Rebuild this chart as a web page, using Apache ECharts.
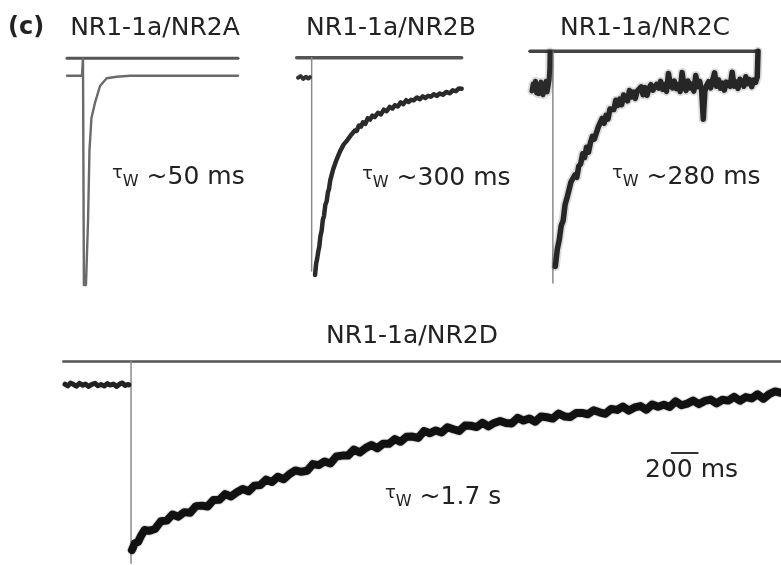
<!DOCTYPE html>
<html>
<head>
<meta charset="utf-8">
<script src="https://cdn.jsdelivr.net/npm/echarts@6/dist/echarts.min.js"></script>
<style>
  html, body { margin: 0; padding: 0; background: #fff; }
  #chart { width: 781px; height: 565px; }
</style>
</head>
<body>
<div id="chart"></div>
<script>
// time in ms from trace start, current in % of peak (0 = baseline, -100 = peak)
var titles = ['NR1-1a/NR2A', 'NR1-1a/NR2B', 'NR1-1a/NR2C', 'NR1-1a/NR2D'];
var tauLabels = ['~50 ms', '~300 ms', '~280 ms', '~1.7 s'];
var scaleLabel = '200 ms';

// agonist application bars
var barA = [[0, 8.3], [1315, 8.3]];
var barB = [[0, 10.1], [1269, 10.1]];
var barC = [[0, 18.8], [1755, 18.8]];
var barD = [[0, 14], [5521, 14]];

// NR2A
var traceA = [[0, 0], [115, 0], [123, 8.3], [130, -100], [146, -100], [162, -69], [173, -35.5], [188, -20.2],
  [215, -13], [254, -4.9], [305, -1.2], [382, -0.5], [485, 0], [1315, 0]];

// NR2B
var stubB = [[10, 0], [30, 0.8], [50, -0.6], [70, 0.5], [90, -0.4], [102, 0.3]];
var onsetB = [[115, 10.1], [115, -98]];
var decayB = [[141, -100], [150, -94], [158, -91.5], [166, -88], [174, -85.5], [182, -80.5], [192, -77.5],
  [201, -72], [210, -70], [220, -64.5], [231, -62.5], [240, -58], [248, -56.5], [258, -52], [269, -51],
  [280, -46.5], [295, -45.5], [307, -41.5], [320, -40.8], [334, -37.2], [348, -37], [362, -33.8],
  [375, -34.2], [385, -32], [400, -31.5], [418, -29], [432, -29.8], [446, -26.8], [462, -27], [478, -24.2],
  [494, -24.8], [510, -22.6], [528, -23.4], [546, -20.6], [564, -21.2], [582, -19.2], [600, -19.9],
  [625, -17.8], [648, -18.6], [670, -16.2], [692, -17], [715, -14.8], [736, -15.6], [756, -13.9],
  [778, -14.6], [800, -12.5], [820, -13.4], [842, -11.4], [860, -12.3], [879, -11.2], [900, -11.5],
  [925, -10], [948, -10.9], [970, -9.4], [990, -10.3], [1010, -9.2], [1032, -9.6], [1055, -8.4],
  [1077, -9.2], [1100, -8], [1125, -8.6], [1150, -7.2], [1179, -7.9], [1200, -6.4], [1225, -6.8],
  [1248, -5.4], [1269, -5.6]];

// NR2C
var stubC = [[15, -1.5], [24, 2], [33, -0.5], [42, 3.5], [50, -2.5], [58, 0.5], [66, -3], [75, 1.5], [84, 3],
  [92, -1], [100, -3.5], [108, 2], [116, 0], [124, 3.5], [132, -2], [140, 1], [147, 4], [152, 10], [154, 18.5]];
var onsetC = [[176, 18.8], [176, -100]];
var decayC = [[195, -91.5], [210, -82.7], [225, -77.9], [240, -70.6], [255, -68], [270, -59.7], [285, -56.3],
  [300, -55.8], [315, -48.2], [330, -49.2], [345, -44.6], [360, -45.8], [375, -40.1], [390, -38.9],
  [405, -33.7], [420, -35.7], [435, -30.4], [450, -32.9], [465, -28.1], [480, -24.8], [495, -26.2],
  [510, -25.6], [525, -20.1], [540, -20.5], [555, -15.6], [570, -18.1], [585, -14], [600, -15.9],
  [615, -10.8], [630, -10.6], [645, -11], [660, -6.3], [675, -8.9], [690, -5.7], [705, -8.6], [720, -3.6],
  [735, -4.7], [750, -6.6], [765, -1.3], [780, -4.6], [795, -2.1], [810, -5.3], [825, -1.6], [840, -2.5],
  [855, 0.6], [870, -3.5], [885, 0.2], [900, -3.7], [915, -0.2], [930, 1.7], [945, -1.1], [960, -2],
  [975, 1.9], [990, 0], [1005, 3.4], [1020, -0.7], [1035, 1.8], [1050, -1.7], [1065, 7.4], [1080, 1.7],
  [1095, 0.1], [1110, 3.5], [1125, -0.3], [1140, 1.7], [1155, -1.8], [1170, 7.9], [1185, 1.1],
  [1200, -1.3], [1215, 3.6], [1230, 0], [1245, 2], [1260, -1.6], [1275, 6.4], [1290, 0.6], [1305, 3.4],
  [1320, -0.9], [1333, -16], [1345, -1.6], [1360, 1.5], [1375, 3.2], [1390, 0.1], [1405, -0.9],
  [1420, 7.8], [1435, 0.9], [1450, 4.2], [1465, -0.1], [1480, 2.5], [1495, -1.1], [1510, 3], [1525, 2.2],
  [1540, 0.9], [1555, 8.1], [1570, 0.9], [1585, 3.2], [1600, -0.2], [1615, 4.5], [1630, 3.1], [1645, 0.9],
  [1660, 5.8], [1675, 2.2], [1690, 4.3], [1705, 0.7], [1720, 4.1], [1735, 2.9], [1748, 5.7], [1754, 18.8]];

// NR2D
var stubD = [[13, 0.4], [35, -0.6], [55, 1.1], [80, 0.2], [100, -0.8], [125, 0.9], [150, -0.2], [170, 0.6],
  [195, -0.9], [220, 0.3], [245, 1], [265, -0.5], [290, 0.2], [315, -0.7], [340, 0.8], [360, -0.1],
  [385, 0.5], [410, -0.9], [435, 0.6], [455, 1.2], [475, -0.4], [495, 0.3], [505, 0]];
var onsetD = [[521, 14], [521, -107]];
var decayD = [[528, -99], [550, -95.1], [575, -94.2], [600, -90.2], [625, -87], [660, -87.5], [705, -86.4],
  [750, -81.8], [795, -81.4], [840, -77.7], [885, -79], [930, -76.3], [975, -76.7], [1020, -72.7],
  [1065, -72.4], [1110, -72.9], [1155, -69], [1200, -68.9], [1245, -65.5], [1290, -66.9], [1335, -64.4],
  [1380, -62.4], [1425, -63.8], [1470, -60.4], [1515, -60.1], [1560, -56.8], [1605, -58.2], [1650, -55.1],
  [1695, -56.6], [1740, -53.5], [1785, -51.3], [1830, -52.1], [1875, -51.5], [1920, -47.5], [1965, -48.1],
  [2010, -45.9], [2055, -47.1], [2100, -42.9], [2145, -42.4], [2190, -42.4], [2235, -38.8], [2280, -40.5],
  [2325, -37.9], [2370, -36], [2415, -38], [2460, -35.3], [2505, -35.3], [2550, -32.5], [2595, -34.1],
  [2640, -31.1], [2685, -31], [2730, -31.8], [2775, -27.7], [2820, -29], [2865, -27.3], [2910, -28.5],
  [2955, -25.4], [3000, -26.6], [3045, -27.6], [3090, -24.4], [3135, -24.5], [3180, -25.3], [3225, -22.7],
  [3270, -24.9], [3315, -22.8], [3360, -21.6], [3405, -22.8], [3450, -23.1], [3495, -19.7], [3540, -21.4],
  [3585, -20.1], [3630, -22.1], [3675, -18.9], [3720, -19.4], [3765, -20.2], [3810, -17.2], [3855, -18.9],
  [3900, -19.3], [3945, -16.8], [3990, -16.8], [4035, -17.6], [4080, -15.2], [4125, -16.4], [4170, -17.3],
  [4215, -14.4], [4260, -15], [4305, -13], [4350, -15.4], [4395, -13.5], [4440, -12.7], [4485, -14.9],
  [4530, -11.7], [4575, -13.1], [4620, -11.9], [4665, -13.2], [4710, -9.8], [4755, -12.2], [4800, -11.2],
  [4845, -9.4], [4890, -11.5], [4935, -9.6], [4980, -8.8], [5025, -11.1], [5070, -8.9], [5115, -9.4],
  [5160, -7.2], [5205, -9.5], [5250, -7.3], [5295, -8.1], [5340, -5.6], [5385, -8.3], [5430, -5.5],
  [5475, -3.9], [5521, -4.8]];
var scaleBar = [[4680, -40.9], [4880, -40.9]];

var chart = echarts.init(document.getElementById('chart'), null, { renderer: 'canvas' });

var grids = [
  { left: 67, top: 50.6, width: 171, height: 238.6 },
  { left: 296.7, top: 50.1, width: 166, height: 228.9 },
  { left: 530, top: 45.1, width: 229, height: 241.8 },
  { left: 63.3, top: 354.9, width: 717.7, height: 210.4 }
];
var xRanges = [[0, 1315.4], [0, 1276.9], [0, 1761.5], [0, 5520.8]];
var yRanges = [[-102, 12], [-102, 14], [-102, 22], [-108, 18]];

function line(gi, data, color, width) {
  return {
    type: 'line', xAxisIndex: gi, yAxisIndex: gi, data: data,
    symbol: 'none', silent: true, animation: false,
    lineStyle: { color: color, width: width, cap: 'round', join: 'round' }
  };
}

var font = '"DejaVu Sans", sans-serif';
var haze = 'rgba(0,0,0,0.14)';

function tauText(x, y, label) {
  return {
    type: 'text', x: x, y: y, silent: true,
    style: {
      text: '{t|τ}{w|W}{n| ' + label + '}',
      align: 'left', textAlign: 'left', verticalAlign: 'middle', textVerticalAlign: 'middle',
      fill: '#222',
      rich: {
        t: { fontSize: 18, fontFamily: font, fill: '#222', verticalAlign: 'top' },
        w: { fontSize: 16, fontFamily: font, fill: '#222', verticalAlign: 'bottom' },
        n: { fontSize: 25, fontFamily: font, fill: '#222' }
      }
    }
  };
}

function plainText(x, y, text, align, weight) {
  return {
    type: 'text', x: x, y: y, silent: true,
    style: {
      text: text, font: (weight || 'normal') + ' ' + (weight ? 24 : 25) + 'px ' + font, fill: '#222',
      align: align, textAlign: align, verticalAlign: 'middle', textVerticalAlign: 'middle'
    }
  };
}

chart.setOption({
  backgroundColor: '#fff',
  animation: false,
  grid: grids,
  xAxis: grids.map(function (g, i) {
    return { type: 'value', gridIndex: i, min: xRanges[i][0], max: xRanges[i][1], show: false };
  }),
  yAxis: grids.map(function (g, i) {
    return { type: 'value', gridIndex: i, min: yRanges[i][0], max: yRanges[i][1], show: false };
  }),
  series: [
    line(0, barA, '#555', 3),
    line(0, traceA, '#6a6a6a', 2.4),
    line(1, barB, '#555', 3.5),
    line(1, onsetB, '#8a8a8a', 1.5),
    line(1, stubB, '#333', 4),
    line(1, decayB, '#2a2a2a', 4.5),
    line(2, barC, '#444', 3.5),
    line(2, onsetC, '#8a8a8a', 1.5),
    line(2, stubC, haze, 9),
    line(2, decayC, haze, 9),
    line(2, stubC, '#2a2a2a', 5),
    line(2, decayC, '#262626', 5.5),
    line(3, barD, '#555', 2.5),
    line(3, onsetD, '#8a8a8a', 1.5),
    line(3, decayD, haze, 10),
    line(3, stubD, '#222', 5),
    line(3, decayD, '#111', 8),
    line(3, scaleBar, '#333', 2)
  ],
  graphic: [
    plainText(8, 28, '(c)', 'left', 'bold'),
    plainText(155, 28, titles[0], 'center'),
    plainText(391, 28, titles[1], 'center'),
    plainText(645, 28, titles[2], 'center'),
    plainText(412, 336, titles[3], 'center'),
    tauText(112, 177, tauLabels[0]),
    tauText(362, 178, tauLabels[1]),
    tauText(612, 177, tauLabels[2]),
    tauText(385, 497, tauLabels[3]),
    plainText(645, 470, scaleLabel, 'left')
  ]
});
</script>
</body>
</html>
